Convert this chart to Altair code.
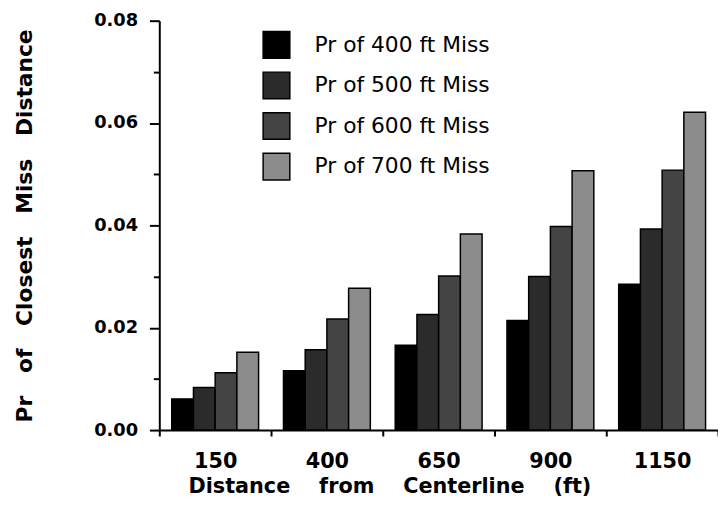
import altair as alt
import pandas as pd

distances = ["150", "400", "650", "900", "1150"]
series = ["Pr of 400 ft Miss", "Pr of 500 ft Miss", "Pr of 600 ft Miss", "Pr of 700 ft Miss"]
miss400 = [0.0061, 0.0116, 0.0166, 0.0214, 0.0285]
miss500 = [0.0083, 0.0157, 0.0226, 0.0300, 0.0393]
miss600 = [0.0112, 0.0217, 0.0301, 0.0398, 0.0508]
miss700 = [0.0152, 0.0277, 0.0383, 0.0507, 0.0621]
y_ticks = [0.0, 0.01, 0.02, 0.03, 0.04, 0.05, 0.06, 0.07, 0.08]
fills = ["#000000", "#2b2b2b", "#444444", "#8c8c8c"]

rows = []
for i, d in enumerate(distances):
    for s, vals in zip(series, [miss400, miss500, miss600, miss700]):
        rows.append({"distance": d, "series": s, "prob": vals[i]})
df = pd.DataFrame(rows)

x_title = ("\u00a0" * 4).join(["Distance", "from", "Centerline", "(ft)"])
y_title = ("\u00a0" * 3).join(["Pr", "of", "Closest", "Miss", "Distance"])

FONT = "DejaVu Sans"

chart = alt.Chart(df).mark_bar(stroke="black", strokeWidth=1.5).encode(
    x=alt.X(
        "distance:N",
        sort=distances,
        scale=alt.Scale(paddingInner=0, paddingOuter=0),
        axis=alt.Axis(
            title=x_title,
            labelAngle=0,
            tickBand="extent",
            tickSize=6,
            tickWidth=2,
            tickColor="black",
            domainColor="black",
            domainWidth=2,
            labelFont=FONT,
            labelFontSize=21,
            labelFontWeight="bold",
            labelColor="black",
            labelPadding=15,
            titleFont=FONT,
            titleFontSize=21,
            titleFontWeight="bold",
            titleColor="black",
            titleAlign="left",
            titleBaseline="alphabetic",
            titleX=29,
            titleY=63,
        ),
    ),
    xOffset=alt.XOffset(
        "series:N",
        sort=series,
        scale=alt.Scale(paddingInner=0, paddingOuter=0.573),
    ),
    y=alt.Y(
        "prob:Q",
        scale=alt.Scale(domain=[0, 0.08], nice=False),
        axis=alt.Axis(
            title=y_title,
            values=y_ticks,
            labelExpr="round(datum.value * 100) % 2 === 0 ? format(datum.value, '.2f') : ''",
            tickSize={"condition": {"test": "round(datum.value * 100) % 2 === 0", "value": 10}, "value": 6},
            tickWidth=2,
            tickColor="black",
            domainColor="black",
            domainWidth=2,
            grid=False,
            labelFont=FONT,
            labelFontSize=18,
            labelFontWeight="bold",
            labelColor="black",
            labelPadding=12,
            titleFont=FONT,
            titleFontSize=22,
            titleFontWeight="bold",
            titleColor="black",
            titleAngle=270,
            titleAlign="center",
            titleBaseline="alphabetic",
            titleX=-129,
            titleY=207,
        ),
    ),
    color=alt.Color(
        "series:N",
        sort=series,
        scale=alt.Scale(domain=series, range=fills),
        legend=alt.Legend(
            title=None,
            orient="none",
            legendX=104,
            legendY=10,
            padding=0,
            symbolType="square",
            symbolSize=729,
            symbolStrokeColor="black",
            symbolStrokeWidth=1.5,
            symbolOpacity=1,
            labelFont=FONT,
            labelFontSize=22,
            labelColor="black",
            labelOffset=24,
            labelLimit=400,
            rowPadding=8,
        ),
    ),
).properties(
    width=565,
    height=414,
    padding={"left": 153, "top": 10, "right": 0, "bottom": 80},
    autosize=alt.AutoSizeParams(type="none"),
    background="white",
).configure_view(strokeWidth=0)

chart.save("out.html", embed_options={"renderer": "svg", "actions": False})
